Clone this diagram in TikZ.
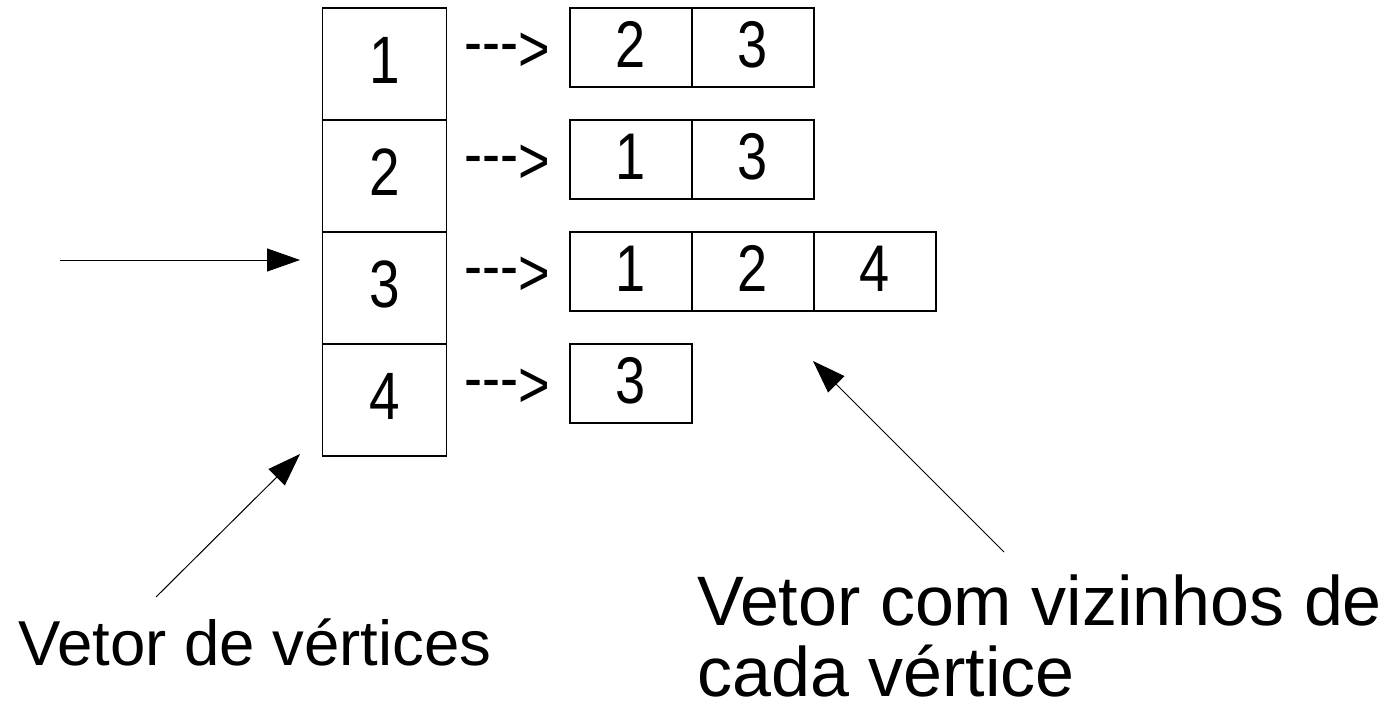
\documentclass[tikz,border=0pt]{standalone}
\usepackage{fontspec}
\setmainfont{Liberation Sans}
\newfontfamily\narrowsans[FakeStretch=0.82]{Liberation Sans}
\usetikzlibrary{arrows.meta}
\tikzset{
  vbox/.style={draw=black,line width=1.2pt,minimum width=124pt,minimum height=112pt,inner sep=0pt,
    font=\narrowsans\fontsize{67}{70}\selectfont,text height=48pt,text depth=10pt},
  nbox/.style={draw=black,line width=1.2pt,minimum width=122pt,minimum height=79pt,inner sep=0pt,
    font=\narrowsans\fontsize{66}{70}\selectfont,text height=47pt,text depth=8pt},
  ptr/.style={anchor=base west,inner sep=0pt,font=\narrowsans\fontsize{66}{70}\selectfont},
  lab/.style={anchor=base west,inner sep=0pt},
  arr/.style={line width=1pt,-{Triangle[length=33pt,width=23pt]}}
}
\newcommand{\ptrtext}{\raisebox{7pt}{-{}-{}-{}}>}
\begin{document}
\begin{tikzpicture}[x=1pt,y=-1pt]
\useasboundingbox[fill=white] (0,0) rectangle (1396,704);
% vertex vector
\node[vbox] (v1) at (384.5,64) {1};
\node[vbox] (v2) at (384.5,176) {2};
\node[vbox] (v3) at (384.5,288) {3};
\node[vbox] (v4) at (384.5,400) {4};
% pointers
\node[ptr] (d1) at (464,71) {\ptrtext};
\node[ptr] (d2) at (464,183) {\ptrtext};
\node[ptr] (d3) at (464,295) {\ptrtext};
\node[ptr] (d4) at (464,407) {\ptrtext};
% neighbour vectors
\node[nbox] (n11) at (631,47.5) {2};
\node[nbox] (n12) at (753,47.5) {3};
\node[nbox] (n21) at (631,159.5) {1};
\node[nbox] (n22) at (753,159.5) {3};
\node[nbox] (n31) at (631,271.5) {1};
\node[nbox] (n32) at (753,271.5) {2};
\node[nbox] (n33) at (875,271.5) {4};
\node[nbox] (n41) at (631,383.5) {3};
% labels
\node[lab,font=\fontsize{63.5}{70}\selectfont] (l1) at (18,665) {Vetor de vértices};
\node[lab,font=\fontsize{70}{73}\selectfont] (l2a) at (697,625) {Vetor com vizinhos de};
\node[lab,font=\fontsize{70}{73}\selectfont] (l2b) at (697,696) {cada vértice};
% arrows
\coordinate (h0) at (60,260);
\coordinate (h1) at (300,260);
\coordinate (a0) at (156,597);
\coordinate (a1) at (300,454);
\coordinate (b0) at (1004,552);
\coordinate (b1) at (813,361);
\draw[arr] (h0) -- (h1);
\draw[arr] (a0) -- (a1);
\draw[arr] (b0) -- (b1);
\end{tikzpicture}
\end{document}
